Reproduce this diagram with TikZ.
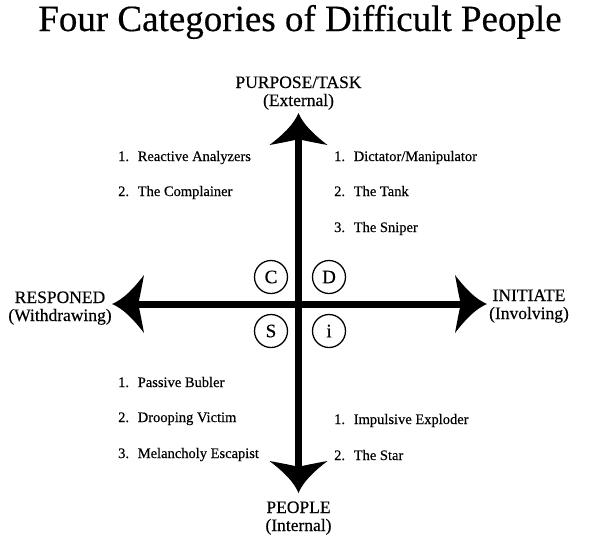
\documentclass[tikz,border=0pt]{standalone}
\usepackage{fontspec}
\setmainfont{Liberation Serif}[FakeBold=0.4]
\begin{document}
\begin{tikzpicture}[x=1pt,y=-1pt,
  item/.style={anchor=base west,inner sep=0pt,font=\fontsize{14.5}{16}\selectfont},
  axlabel/.style={anchor=base,inner sep=0pt,align=center,font=\fontsize{17.5}{18}\selectfont},
  letter/.style={circle,draw,line width=1.3pt,minimum size=33pt,inner sep=0pt,font=\fontsize{19}{20}\selectfont},
  shaft/.style={line width=7pt},
  head/.style={fill=black,draw=none}]
\useasboundingbox (0,0) rectangle (600,539);
\fill[white] (0,0) rectangle (600,539);
\newcommand\arrhead[2]{%
  \begin{scope}[shift={(#1)},rotate=#2]
  \fill[head] (0,0) .. controls (-12,-5) and (-22,-16) .. (-32,-29)
     .. controls (-30,-18) and (-28,-8) .. (-27,-3.6) -- (-27,3.6)
     .. controls (-28,8) and (-30,18) .. (-32,29)
     .. controls (-22,16) and (-12,5) .. cycle;
  \end{scope}}
\node[anchor=base,inner sep=0pt,font=\fontsize{37}{39}\selectfont] (title) at (300,31) {Four Categories of Difficult People};
\coordinate (O) at (298.5,304);
\coordinate (top) at (298.5,113);
\coordinate (bot) at (298.5,493);
\coordinate (lft) at (112,304);
\coordinate (rgt) at (487,304);
\draw[shaft] (O) -- ([yshift=-25]top);
\draw[shaft] (O) -- ([yshift=25]bot);
\draw[shaft] (O) -- ([xshift=25]lft);
\draw[shaft] (O) -- ([xshift=-25]rgt);
\arrhead{top}{90}
\arrhead{bot}{-90}
\arrhead{lft}{180}
\arrhead{rgt}{0}
\node[axlabel] (purpose) at (298.5,106) {PURPOSE/TASK\\(External)};
\node[axlabel] (people) at (298.5,531) {PEOPLE\\(Internal)};
\node[axlabel] (resp) at (60,321) {RESPONED\\(Withdrawing)};
\node[axlabel] (init) at (529,319) {INITIATE\\(Involving)};
\node[letter] (C) at (271,277) {C};
\node[letter] (D) at (329,277) {D};
\node[letter] (S) at (271,331) {S};
\node[letter] (i) at (329,331) {i};
\node[item] (a1) at (118,161) {1.\hspace{0.6em}Reactive Analyzers};
\node[item] (a2) at (118,196) {2.\hspace{0.6em}The Complainer};
\node[item] (b1) at (334,161) {1.\hspace{0.6em}Dictator/Manipulator};
\node[item] (b2) at (334,196) {2.\hspace{0.6em}The Tank};
\node[item] (b3) at (334,232) {3.\hspace{0.6em}The Sniper};
\node[item] (c1) at (118,387) {1.\hspace{0.6em}Passive Bubler};
\node[item] (c2) at (118,422) {2.\hspace{0.6em}Drooping Victim};
\node[item] (c3) at (118,458) {3.\hspace{0.6em}Melancholy Escapist};
\node[item] (d1) at (334,424) {1.\hspace{0.6em}Impulsive Exploder};
\node[item] (d2) at (334,460) {2.\hspace{0.6em}The Star};
\end{tikzpicture}
\end{document}
